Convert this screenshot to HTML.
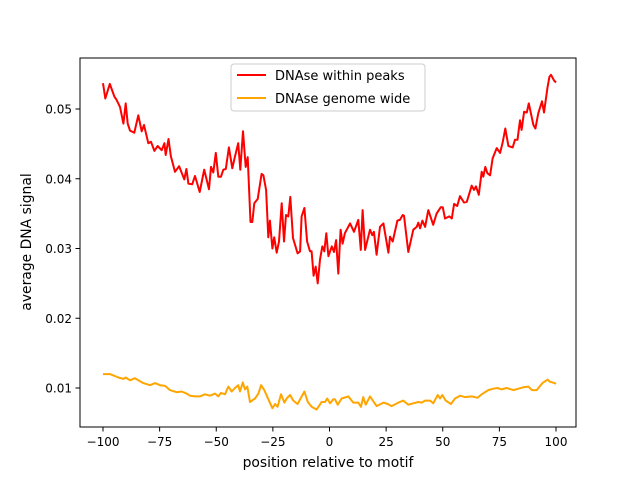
<!DOCTYPE html>
<html><head><meta charset="utf-8"><style>
body{margin:0;background:#fff}
svg text{font-family:"DejaVu Sans","Liberation Sans",sans-serif;fill:#000}
</style></head><body>
<svg id="chart" width="640" height="480" viewBox="0 0 640 480" xmlns="http://www.w3.org/2000/svg">
<rect width="640" height="480" fill="#fff"/>
<g id="plot"></g>
<rect x="80" y="58" width="496" height="369" fill="none" stroke="#000" stroke-width="1"/>
<g id="ticks"></g>
<text x="328" y="467" font-size="13.9" text-anchor="middle">position relative to motif</text>
<text transform="translate(31,242) rotate(-90)" font-size="13.9" text-anchor="middle">average DNA signal</text>
<g>
<rect x="231" y="64" width="194" height="47" rx="3" fill="#fff" fill-opacity="0.8" stroke="#ccc"/>
<line x1="237" y1="75" x2="266" y2="75" stroke="red" stroke-width="2"/>
<text x="275" y="80" font-size="13">DNAse within peaks</text>
<line x1="237" y1="98" x2="266" y2="98" stroke="orange" stroke-width="2"/>
<text x="275" y="103" font-size="13">DNAse genome wide</text>
</g>
</svg>
<script>
const peaksX=[-100,-99,-97,-95,-94,-92.5,-91,-90,-89.1,-88.1,-86.2,-84.4,-82.9,-81.9,-80,-78.8,-77.3,-75.9,-74.1,-72.9,-72.3,-71.1,-70,-68.2,-66.4,-64.1,-63.2,-62.3,-60.6,-59.4,-57.3,-55.3,-53.2,-52.3,-51.3,-50.2,-49.1,-47.9,-46.9,-45.8,-44.4,-42.9,-41.7,-40.3,-39.4,-38.2,-37,-36.1,-34.9,-34.1,-33.2,-31.7,-30,-29.2,-28,-27,-26.3,-25.2,-24.4,-23.3,-22.3,-21.1,-20.1,-19.2,-18.2,-17.3,-16.1,-14.1,-13,-12.3,-11.1,-9.9,-8.6,-7.9,-7,-6.1,-5.2,-4.2,-3.2,-2.3,-1.4,-0.5,1,2,2.9,3.9,4.9,5.8,6.8,9.1,10.8,12.7,13.8,14.6,15.7,17.9,18.9,19.6,20.8,22.3,23.8,26,26.7,27.9,30,31.1,32.3,32.9,34.8,37,38.5,39.2,40,41,42.2,43.6,45.8,47.3,49.1,50,51,52.9,54,55,56.4,57.6,59.4,60.6,62.8,63.8,64.7,65.9,67.2,67.9,68.8,69.7,70.9,72,73.8,75.3,76.5,77.6,79,80.9,81.9,83,84.1,84.8,85.9,87.1,88,90,90.9,92.2,93.8,94.7,96.2,97.1,97.8,99.1,100];
const peaksY=[0.0537,0.0515,0.0536,0.0518,0.0513,0.0503,0.0479,0.0508,0.0479,0.0469,0.0466,0.0491,0.0468,0.0477,0.0451,0.0453,0.0440,0.0447,0.0441,0.0451,0.0434,0.0457,0.0432,0.0410,0.0418,0.0399,0.0414,0.0393,0.0392,0.0404,0.0381,0.0413,0.0385,0.0417,0.0409,0.0437,0.0403,0.0403,0.0413,0.0414,0.0445,0.0415,0.0432,0.0451,0.0413,0.0468,0.0417,0.0431,0.0338,0.0338,0.0365,0.0371,0.0407,0.0405,0.0384,0.0316,0.0340,0.0300,0.0316,0.0294,0.0310,0.0365,0.0310,0.0348,0.0346,0.0374,0.0315,0.0293,0.0296,0.0346,0.0358,0.0310,0.0296,0.0296,0.0261,0.0274,0.0250,0.0284,0.0303,0.0296,0.0322,0.0289,0.0303,0.0295,0.0312,0.0264,0.0327,0.0307,0.0322,0.0336,0.0324,0.0341,0.0298,0.0355,0.0298,0.0327,0.0319,0.0324,0.0291,0.0331,0.0336,0.0294,0.0317,0.0310,0.0340,0.0341,0.0348,0.0347,0.0295,0.0327,0.0331,0.0337,0.0329,0.0340,0.0331,0.0355,0.0334,0.0350,0.0359,0.0359,0.0343,0.0346,0.0343,0.0364,0.0361,0.0375,0.0366,0.0367,0.0390,0.0384,0.0389,0.0377,0.0410,0.0403,0.0417,0.0408,0.0405,0.0429,0.0444,0.0437,0.0453,0.0472,0.0447,0.0445,0.0456,0.0456,0.0484,0.0470,0.0496,0.0495,0.0508,0.0477,0.0472,0.0494,0.0511,0.0495,0.0530,0.0546,0.0549,0.0541,0.0538];
const genomeX=[-100,-96.9,-93.2,-91,-90,-88.1,-85.9,-82.2,-79.2,-77,-74.8,-72.6,-70.4,-67.5,-65.3,-63.1,-61.6,-59.4,-57.2,-55,-52.8,-50.5,-49.1,-47.9,-46.1,-44.7,-43.2,-41.7,-40.3,-39.5,-38.3,-37.3,-36.3,-35.1,-32.9,-31.4,-30.2,-28.8,-27,-25.2,-24,-22.9,-21.4,-19.9,-18.9,-17.4,-16,-14.1,-11.1,-9.6,-7.9,-5.7,-3.5,-2,-1,0.2,1.7,2.4,3.6,5.4,8.3,10.5,12.7,13.9,14.9,16,17.9,20.8,23.8,25.7,27.4,30.4,32.6,34.8,37,39.2,40.7,42.2,44.4,45.8,47.8,48.8,49.8,51.3,53.6,55.4,57.6,59.8,62.8,65.4,67.2,70.1,72.3,74.2,76,78.2,81.2,83.4,85.6,87.8,89.3,91.5,94,96.3,97.3,99.3,100];
const genomeY=[0.0120,0.0120,0.0115,0.0113,0.0115,0.0111,0.0114,0.0107,0.0104,0.0107,0.0104,0.0103,0.0097,0.0094,0.0095,0.0092,0.0089,0.0088,0.0088,0.0091,0.0089,0.0092,0.0088,0.0093,0.0091,0.0102,0.0095,0.0100,0.0104,0.0095,0.0108,0.0098,0.0102,0.0080,0.0085,0.0092,0.0104,0.0097,0.0084,0.0071,0.0077,0.0073,0.0091,0.0079,0.0085,0.0090,0.0082,0.0077,0.0095,0.0080,0.0073,0.0069,0.0080,0.0080,0.0085,0.0078,0.0084,0.0084,0.0076,0.0085,0.0088,0.0079,0.0079,0.0073,0.0087,0.0076,0.0088,0.0074,0.0079,0.0077,0.0074,0.0079,0.0082,0.0076,0.0078,0.0080,0.0079,0.0082,0.0082,0.0078,0.0090,0.0085,0.0090,0.0082,0.0077,0.0085,0.0089,0.0087,0.0088,0.0086,0.0091,0.0097,0.0099,0.0100,0.0098,0.0100,0.0097,0.0099,0.0101,0.0102,0.0097,0.0097,0.0107,0.0112,0.0109,0.0107,0.0106];
const xTicks=[-100,-75,-50,-25,0,25,50,75,100];
const yTicks=[0.01,0.02,0.03,0.04,0.05];
const xTickLabels=["\u2212100","\u221275","\u221250","\u221225","0","25","50","75","100"];
const yTickLabels=["0.01","0.02","0.03","0.04","0.05"];

function sx(v){return 103+(v+100)*2.265;}
function sy(v){return 109+(0.05-v)*6975;}
const NS="http://www.w3.org/2000/svg";
const plot=document.getElementById('plot');
function line(xs,ys,color,name){
  const p=document.createElementNS(NS,'polyline');
  p.setAttribute('points',xs.map((x,i)=>sx(x).toFixed(1)+','+sy(ys[i]).toFixed(1)).join(' '));
  p.setAttribute('fill','none');p.setAttribute('stroke',color);p.setAttribute('stroke-width','2');
  p.setAttribute('stroke-linejoin','round');
  
  
  plot.appendChild(p);
}
line(peaksX,peaksY,'red','series-within-peaks');
line(genomeX,genomeY,'orange','series-genome-wide');
const tg=document.getElementById('ticks');
xTicks.forEach((v,i)=>{
  const l=document.createElementNS(NS,'line');
  l.setAttribute('x1',sx(v));l.setAttribute('x2',sx(v));l.setAttribute('y1',427);l.setAttribute('y2',431.5);l.setAttribute('stroke','#000');
  
  
  tg.appendChild(l);
  const t=document.createElementNS(NS,'text');
  t.setAttribute('x',sx(v));t.setAttribute('y',446);t.setAttribute('font-size','12');t.setAttribute('text-anchor','middle');
  t.textContent=xTickLabels[i];
  
  
  tg.appendChild(t);
});
yTicks.forEach((v,i)=>{
  const l=document.createElementNS(NS,'line');
  l.setAttribute('x1',75.5);l.setAttribute('x2',80);l.setAttribute('y1',sy(v));l.setAttribute('y2',sy(v));l.setAttribute('stroke','#000');
  
  
  tg.appendChild(l);
  const t=document.createElementNS(NS,'text');
  t.setAttribute('x',72);t.setAttribute('y',sy(v)+4.5);t.setAttribute('font-size','12');t.setAttribute('text-anchor','end');
  t.textContent=yTickLabels[i];
  
  
  tg.appendChild(t);
});
</script>
</body></html>
